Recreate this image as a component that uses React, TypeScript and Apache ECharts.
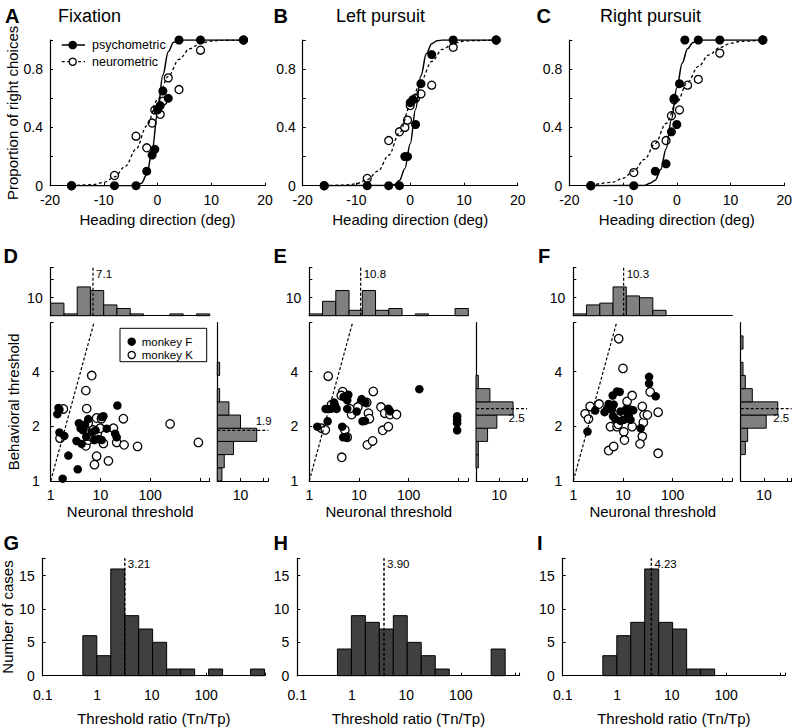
import { useEffect, useRef } from 'react';
import * as echarts from 'echarts';

const FONT = '"Liberation Sans", Arial, Helvetica, sans-serif';

// ---------- Row 1: psychometric / neurometric ----------
const headingTicks = ['-20', '-10', '0', '10', '20'];
const proportionTicks = ['0', '0.4', '0.8'];
const panelTitlesTop = ['Fixation', 'Left pursuit', 'Right pursuit'];

const psyA = [[-16, 0], [-8, 0], [-4, 0], [-2, 0.1], [-1, 0.21], [-0.5, 0.25], [0, 0.52], [0.5, 0.55], [1, 0.65], [2, 0.6], [4, 1], [8, 1], [16, 1]];
const neuA = [[-16, 0], [-8, 0.07], [-4, 0.34], [-2, 0.26], [-1, 0.43], [-0.5, 0.52], [0.5, 0.49], [1, 0.58], [2, 0.74], [4, 0.66], [8, 0.93], [16, 1]];
const psyB = [[-16, 0], [-8, 0], [-4, 0], [-2, 0], [-1, 0.2], [-0.5, 0.2], [0, 0.57], [0.5, 0.59], [1, 0.42], [2, 0.7], [4, 0.9], [8, 1], [16, 1]];
const neuB = [[-16, 0], [-8, 0.05], [-4, 0.31], [-2, 0.37], [-1, 0.4], [-0.5, 0.45], [0, 0.55], [1, 0.6], [2, 0.63], [4, 0.69], [8, 0.95], [16, 1]];
const psyC = [[-16, 0], [-8, 0], [-4, 0.1], [-2, 0.15], [-1, 0.37], [-0.5, 0.6], [0, 0.42], [0.5, 0.7], [1.5, 1], [4, 1], [8, 1], [16, 1]];
const neuC = [[-16, 0], [-8, 0.09], [-4, 0.28], [-2, 0.31], [-1, 0.48], [-0.5, 0.59], [0.5, 0.52], [2, 0.69], [4, 0.73], [8, 0.91], [16, 1]];

const fitPsyA = [[-16, 0], [-5, 0], [-4, 0.002], [-3, 0.016], [-2, 0.077], [-1, 0.24], [0, 0.5], [1, 0.76], [2, 0.92], [3, 0.984], [4, 0.998], [5, 1], [16, 1]];
const fitNeuA = [[-16, 0], [-12, 0.007], [-10, 0.023], [-8, 0.06], [-6, 0.133], [-4, 0.25], [-2, 0.41], [0, 0.59], [2, 0.75], [4, 0.867], [6, 0.94], [8, 0.977], [10, 0.993], [12, 0.998], [16, 1]];
const fitPsyB = [[-16, 0], [-4, 0.001], [-3, 0.007], [-2, 0.035], [-1, 0.117], [0, 0.287], [1, 0.525], [2, 0.754], [3, 0.905], [4, 0.974], [5, 0.995], [6, 1], [16, 1]];
const fitNeuB = [[-16, 0], [-12, 0.004], [-10, 0.014], [-8, 0.041], [-6, 0.1], [-4, 0.209], [-2, 0.363], [0, 0.546], [2, 0.72], [4, 0.853], [6, 0.935], [8, 0.976], [10, 0.993], [12, 0.996], [16, 1]];
const fitPsyC = [[-16, 0], [-6, 0.002], [-5, 0.017], [-4, 0.038], [-3, 0.111], [-2, 0.252], [-1, 0.456], [0, 0.67], [1, 0.841], [2, 0.94], [3, 0.983], [4, 0.996], [5, 1], [16, 1]];
const fitNeuC = [[-16, 0.003], [-12, 0.023], [-10, 0.051], [-8, 0.102], [-6, 0.181], [-4, 0.291], [-2, 0.428], [0, 0.572], [2, 0.709], [4, 0.819], [6, 0.898], [8, 0.949], [10, 0.977], [12, 0.991], [16, 0.999]];

// ---------- Row 2: neuronal vs behavioral thresholds ----------
const neuronTicks = ['1', '10', '100'];
const behaviorTicks = ['1', '2', '4'];
const marginalCountTicks = ['10'];

const monkeyF_D = [[1.43, 2.52], [1.5, 2.47], [1.36, 2.33], [1.5, 1.85], [1.88, 1.77], [2.27, 1.38], [1.74, 1.03], [3.5, 1.16], [3.3, 1.66], [3.7, 2.08], [4.2, 1.6], [4.5, 1.9], [4.9, 2.04], [5.7, 2.19], [6.7, 1.85], [7.5, 1.68], [9.1, 1.7], [10.6, 2.25], [10.6, 1.68], [13.4, 1.94], [19.8, 1.82], [21.3, 1.74], [22, 2.6], [4.0, 1.95], [5.2, 1.75], [8.0, 1.9], [11.5, 2.27]];
const monkeyK_D = [[1.8, 2.49], [1.54, 1.72], [5.1, 3.14], [6.7, 3.8], [5.3, 2.5], [5.7, 2.08], [5.7, 1.83], [5.1, 1.56], [8.4, 2.22], [7.2, 1.91], [8.7, 1.83], [9.9, 1.95], [8.4, 1.37], [7.6, 1.23], [14.5, 1.29], [11.5, 1.61], [18.3, 1.95], [21.3, 1.63], [29, 2.2], [30, 1.58], [56, 1.55], [253, 2.06], [938, 1.63], [5.7, 1.68], [6.5, 1.75], [10.5, 2.2]];
const monkeyF_E = [[1.45, 1.99], [2.13, 2.49], [2.34, 2.13], [2.53, 2.49], [3.14, 2.7], [3.55, 2.49], [4.6, 1.99], [4.8, 1.74], [5.5, 1.74], [5.5, 2.92], [5.8, 2.78], [6.1, 2.98], [5.8, 2.49], [9.0, 2.41], [11.3, 2.82], [11.8, 2.13], [13.2, 2.14], [39, 2.5], [164, 3.2], [945, 2.27], [945, 2.17], [945, 2.08], [945, 1.9], [2.8, 2.5], [3.3, 2.6], [4.9, 2.9], [13.5, 2.7], [42, 2.42]];
const monkeyK_E = [[1.77, 1.95], [2.4, 3.77], [4.7, 3.1], [5.2, 1.91], [5.8, 1.74], [4.5, 1.35], [7.1, 2.32], [11.3, 2.74], [14.3, 2.7], [15.5, 2.36], [16.2, 2.2], [14.7, 1.58], [18.8, 1.66], [19.4, 3.11], [27.7, 2.55], [33, 2.36], [30, 1.9], [39, 1.99], [42, 2.32], [57, 2.32], [2.8, 2.63], [2.1, 1.91], [4.4, 2.95], [9.5, 2.55], [6.5, 2.5]];
const monkeyF_F = [[1.93, 1.87], [2.76, 2.44], [4.26, 2.39], [5.15, 2.65], [6.2, 2.95], [6.5, 2.63], [7.6, 3.11], [8.6, 3.09], [6.0, 2.47], [6.3, 2.27], [7.0, 2.19], [8.9, 2.41], [8.9, 2.14], [10.4, 2.17], [11.8, 2.5], [13.1, 2.27], [14.2, 2.47], [14.2, 2.17], [16.1, 2.45], [22.7, 1.95], [33.5, 3.74], [33.5, 3.43], [45.6, 2.92], [12.5, 2.35], [4.8, 2.5]];
const monkeyK_F = [[1.73, 2.34], [2.02, 2.19], [2.18, 2.57], [3.3, 2.65], [10, 4.16], [8.2, 6.06], [5.6, 1.99], [7.6, 1.99], [10.4, 1.86], [10.7, 1.68], [5.15, 1.47], [6.5, 1.55], [12.1, 2.74], [15.3, 2.95], [15.3, 1.99], [24.5, 1.76], [24.5, 2.57], [25.7, 2.1], [26.5, 2.31], [35.2, 3.09], [31, 2.31], [51, 2.39], [51, 1.42], [8, 2.05], [11, 2.3], [22, 1.6]];

const neuronBinEdges = [1, 1.848, 3.415, 6.31, 11.66, 21.54, 39.81, 73.56, 135.9, 251.2, 464.2, 857.7, 1585];
const neuronCountsD = [7, 1, 16, 14, 6, 4, 1, 0, 0, 1, 0, 1];
const neuronCountsE = [1, 8, 14, 3, 14, 3, 4, 0, 1, 0, 0, 4];
const neuronCountsF = [1, 6, 7, 16, 11, 10, 3, 0, 0, 0, 0, 0];
const behaviorBinEdges = [1, 1.182, 1.397, 1.651, 1.951, 2.305, 2.724, 3.22, 3.805, 4.497, 5.314, 6.28, 7.42];
const behaviorCountsD = [2, 3, 7, 17, 10, 5, 1, 0, 1, 0, 0, 0];
const behaviorCountsE = [0, 1, 1, 5, 9, 16, 6, 1, 0, 0, 0, 0];
const behaviorCountsF = [0, 0, 2, 3, 11, 16, 5, 2, 1, 0, 1, 0];
const neuronMedians = [7.1, 10.8, 10.3];
const behaviorMedians = [1.9, 2.5, 2.5];

// ---------- Row 3: threshold ratio ----------
const ratioTicks = ['0.1', '1', '10', '100'];
const casesTicks = ['0', '5', '10', '15'];
const ratioBinEdges = [0.545, 0.983, 1.774, 3.2, 5.78, 10.4, 18.8, 34.0, 61.4, 110.9, 200, 361, 652, 1178];
const ratioCountsG = [6, 3, 16, 9, 7, 5, 1, 1, 0, 1, 0, 0, 1];
const ratioCountsH = [4, 9, 8, 7, 9, 5, 3, 1, 0, 0, 0, 4, 0];
const ratioCountsI = [3, 6, 8, 16, 8, 7, 1, 1, 0, 0, 0, 0, 0];
const ratioMedians = [3.21, 3.9, 4.23];
const ratioMedianLabels = ['3.21', '3.90', '4.23'];

// ---------- helpers ----------
const fmt = (v: number) => String(Number(Number(v).toPrecision(6)));
const pick = (labels: string[]) => (v: number) => {
  const s = fmt(v);
  return labels.includes(s) ? s : '';
};
const bins = (edges: number[], counts: number[]) => counts.map((c, i) => [edges[i], edges[i + 1], c]);

const grid = (left: number, top: number, width: number, height: number) => ({
  left, top, width, height, containLabel: false, outerBoundsMode: 'none',
});

const axis = (gridIndex: number, o: any) => ({
  gridIndex,
  axisLine: { show: true, onZero: false, lineStyle: { color: '#000', width: 1.2 } },
  axisTick: { show: o.tick !== false, inside: true, length: 3, lineStyle: { color: '#000', width: 1 } },
  splitLine: { show: false },
  axisLabel: {
    show: o.labels !== undefined,
    color: '#000', fontSize: 14, fontFamily: FONT, margin: o.margin ?? 7,
    formatter: o.labels ? pick(o.labels) : undefined,
  },
  name: o.name,
  nameLocation: 'middle',
  nameGap: o.nameGap,
  nameTextStyle: { color: '#000', fontSize: 15, fontFamily: FONT },
  type: o.type,
  logBase: o.logBase,
  min: o.min,
  max: o.max,
  interval: o.interval,
});

const histSeries = (idx: number, data: number[][], color: string, horizontal: boolean) => ({
  type: 'custom',
  xAxisIndex: idx,
  yAxisIndex: idx,
  silent: true,
  data,
  encode: horizontal ? { x: 2, y: [0, 1] } : { x: [0, 1], y: 2 },
  renderItem: (_p: any, api: any) => {
    const lo = api.value(0);
    const hi = api.value(1);
    const c = api.value(2);
    if (!(c > 0)) return { type: 'group', children: [] };
    const p0 = horizontal ? api.coord([0, lo]) : api.coord([lo, 0]);
    const p1 = horizontal ? api.coord([c, hi]) : api.coord([hi, c]);
    return {
      type: 'rect',
      shape: {
        x: Math.min(p0[0], p1[0]), y: Math.min(p0[1], p1[1]),
        width: Math.abs(p1[0] - p0[0]), height: Math.abs(p1[1] - p0[1]),
      },
      style: { fill: color, stroke: '#000', lineWidth: 1 },
    };
  },
});

const dashLine = (idx: number, data: number[][], width = 1.2) => ({
  type: 'line', xAxisIndex: idx, yAxisIndex: idx, data, symbol: 'none', silent: true,
  lineStyle: { color: '#000', width, type: [3, 2], opacity: 1 },
});

const textMark = (idx: number, point: number[], text: string, position: string) => ({
  type: 'scatter', xAxisIndex: idx, yAxisIndex: idx, silent: true,
  symbolSize: 0.1, itemStyle: { color: 'rgba(0,0,0,0)', opacity: 1 },
  data: [point],
  label: { show: true, formatter: text, position, distance: 3, color: '#000', opacity: 1, fontSize: 11.5, fontFamily: FONT },
});

const dots = (idx: number, data: number[][], size: number, hollow: boolean) => ({
  type: 'scatter', xAxisIndex: idx, yAxisIndex: idx, data, symbol: 'circle', symbolSize: size, silent: true,
  itemStyle: hollow
    ? { color: '#fff', borderColor: '#000', borderWidth: 1.3, opacity: 1 }
    : { color: '#000', opacity: 1 },
});

function buildOption() {
  const grids: any[] = [];
  const xAxes: any[] = [];
  const yAxes: any[] = [];
  const series: any[] = [];

  // Row 1 (indices 0..2)
  const topLefts = [50, 302.7, 569.3];
  const psy = [psyA, psyB, psyC];
  const neu = [neuA, neuB, neuC];
  const fitPsy = [fitPsyA, fitPsyB, fitPsyC];
  const fitNeu = [fitNeuA, fitNeuB, fitNeuC];
  topLefts.forEach((l, i) => {
    grids.push(grid(l, 40, 215, 145.7));
    xAxes.push(axis(i, { type: 'value', min: -20, max: 20, interval: 10, labels: headingTicks, margin: 7, name: 'Heading direction (deg)', nameGap: 26 }));
    yAxes.push(axis(i, { type: 'value', min: 0, max: 1, interval: 0.2, labels: proportionTicks, margin: 7, name: i === 0 ? 'Proportion of right choices' : undefined, nameGap: 30 }));
    series.push({
      type: 'line', xAxisIndex: i, yAxisIndex: i, data: fitNeu[i], symbol: 'none', silent: true,
      smooth: 0.35, smoothMonotone: 'x', lineStyle: { color: '#000', width: 1.3, type: [3, 2.5] },
    });
    series.push({
      type: 'line', xAxisIndex: i, yAxisIndex: i, data: fitPsy[i], symbol: 'none', silent: true,
      smooth: 0.35, smoothMonotone: 'x', lineStyle: { color: '#000', width: 1.5 },
    });
    series.push(dots(i, neu[i], 8, true));
    series.push(dots(i, psy[i], 9, false));
  });

  // Row 2 scatter (3..5), top hist (6..8), right hist (9..11)
  const midLefts = [50.7, 309.3, 573.3];
  const rightLefts = [217.3, 476, 740.7];
  const filled = [monkeyF_D, monkeyF_E, monkeyF_F];
  const open = [monkeyK_D, monkeyK_E, monkeyK_F];
  const nCounts = [neuronCountsD, neuronCountsE, neuronCountsF];
  const bCounts = [behaviorCountsD, behaviorCountsE, behaviorCountsF];
  const yMax = behaviorBinEdges[behaviorBinEdges.length - 1];
  const xMax = neuronBinEdges[neuronBinEdges.length - 1];
  midLefts.forEach((l, i) => {
    const s = 3 + i;
    grids.push(grid(l, 322.7, 159, 158.3));
    xAxes.push(axis(s, { type: 'log', logBase: 10, min: 1, max: xMax, labels: neuronTicks, margin: 7, name: 'Neuronal threshold', nameGap: 23 }));
    yAxes.push(axis(s, { type: 'log', logBase: 2, min: 1, max: yMax, labels: behaviorTicks, margin: 11, name: i === 0 ? 'Behavioral threshold' : undefined, nameGap: 30 }));
    series.push(dashLine(s, [[1, 1], [yMax, yMax]], 1.2));
    series.push(dots(s, open[i], 8.5, true));
    series.push(dots(s, filled[i], 8.5, false));
  });
  midLefts.forEach((l, i) => {
    const h = 6 + i;
    grids.push(grid(l, 267.7, 159, 48));
    xAxes.push(axis(h, { type: 'log', logBase: 10, min: 1, max: xMax, tick: false }));
    yAxes.push(axis(h, { type: 'value', min: 0, max: 26.7, interval: 10, labels: marginalCountTicks, margin: 8 }));
    series.push(histSeries(h, bins(neuronBinEdges, nCounts[i]), '#808080', false));
    series.push(dashLine(h, [[neuronMedians[i], 0], [neuronMedians[i], 26.7]]));
    series.push(textMark(h, [neuronMedians[i], 23], String(neuronMedians[i]), 'right'));
  });
  rightLefts.forEach((l, i) => {
    const r = 9 + i;
    grids.push(grid(l, 322.7, 51, 158.3));
    xAxes.push(axis(r, { type: 'value', min: 0, max: 22, interval: 10, labels: marginalCountTicks, margin: 7 }));
    yAxes.push(axis(r, { type: 'log', logBase: 2, min: 1, max: yMax, tick: false }));
    series.push(histSeries(r, bins(behaviorBinEdges, bCounts[i]), '#808080', true));
    series.push(dashLine(r, [[0, behaviorMedians[i]], [22, behaviorMedians[i]]]));
    series.push(textMark(r, i === 0 ? [20, behaviorMedians[i]] : [17.5, behaviorMedians[i]], String(behaviorMedians[i]), i === 0 ? 'top' : 'bottom'));
  });

  // Row 3 (12..14)
  const botLefts = [42.7, 297.3, 562.7];
  const rCounts = [ratioCountsG, ratioCountsH, ratioCountsI];
  botLefts.forEach((l, i) => {
    const b = 12 + i;
    grids.push(grid(l, 558.3, 222.3, 117.4));
    xAxes.push(axis(b, { type: 'log', logBase: 10, min: 0.1, max: 1200, labels: ratioTicks, margin: 12, name: 'Threshold ratio (Tn/Tp)', nameGap: 35 }));
    yAxes.push(axis(b, { type: 'value', min: 0, max: 17.6, interval: 5, labels: casesTicks, margin: 8, name: i === 0 ? 'Number of cases' : undefined, nameGap: 23 }));
    series.push(histSeries(b, bins(ratioBinEdges, rCounts[i]), '#404040', false));
    series.push(dashLine(b, [[ratioMedians[i], 0], [ratioMedians[i], 17.6]], 1.5));
    series.push(textMark(b, [ratioMedians[i], 16.8], ratioMedianLabels[i], 'right'));
  });

  const txt = (text: string, x: number, y: number, font: string) => ({
    type: 'text', x, y, z: 20, silent: true,
    style: { text, fill: '#000', font, align: 'left', verticalAlign: 'middle', textAlign: 'left', textVerticalAlign: 'middle' },
  });
  const letterFont = `bold 20px ${FONT}`;
  const titleFont = `18px ${FONT}`;
  const graphic: any[] = [
    txt('A', 5, 16, letterFont), txt(panelTitlesTop[0], 58, 16, titleFont),
    txt('B', 273.5, 16, letterFont), txt(panelTitlesTop[1], 336, 16, titleFont),
    txt('C', 536.5, 16, letterFont), txt(panelTitlesTop[2], 600, 16, titleFont),
    txt('D', 3.5, 255.5, letterFont), txt('E', 273.5, 256, letterFont), txt('F', 538, 256, letterFont),
    txt('G', 3.5, 543, letterFont), txt('H', 273.5, 543, letterFont), txt('I', 537, 543, letterFont),
    // legend, panel A
    { type: 'line', z: 20, silent: true, shape: { x1: 61.7, y1: 45, x2: 85, y2: 45 }, style: { stroke: '#000', lineWidth: 1.5 } },
    { type: 'circle', z: 21, silent: true, shape: { cx: 72.7, cy: 45, r: 4.3 }, style: { fill: '#000' } },
    { type: 'line', z: 20, silent: true, shape: { x1: 61.7, y1: 61.7, x2: 85, y2: 61.7 }, style: { stroke: '#000', lineWidth: 1.3, lineDash: [3, 2.5] } },
    { type: 'circle', z: 21, silent: true, shape: { cx: 72.7, cy: 61.7, r: 3.6 }, style: { fill: '#fff', stroke: '#000', lineWidth: 1.3 } },
    txt('psychometric', 92, 45, `12.5px ${FONT}`),
    txt('neurometric', 92, 61.7, `12.5px ${FONT}`),
    // legend, panel D
    { type: 'rect', z: 20, silent: true, shape: { x: 120, y: 328.3, width: 86.7, height: 33.4 }, style: { fill: '#fff', stroke: '#000', lineWidth: 1 } },
    { type: 'circle', z: 21, silent: true, shape: { cx: 131.7, cy: 341.7, r: 4.2 }, style: { fill: '#000' } },
    { type: 'circle', z: 21, silent: true, shape: { cx: 131.7, cy: 355, r: 3.6 }, style: { fill: '#fff', stroke: '#000', lineWidth: 1.3 } },
    txt('monkey F', 141.7, 341.7, `11.5px ${FONT}`),
    txt('monkey K', 141.7, 355, `11.5px ${FONT}`),
  ];

  return {
    animation: false,
    textStyle: { fontFamily: FONT },
    grid: grids,
    xAxis: xAxes,
    yAxis: yAxes,
    series,
    graphic,
  };
}

export default function App() {
  const ref = useRef<HTMLDivElement>(null);
  useEffect(() => {
    document.body.style.margin = '0';
    const chart = echarts.init(ref.current!, null, { renderer: 'svg' });
    chart.setOption(buildOption() as any);
    return () => chart.dispose();
  }, []);
  return <div ref={ref} style={{ width: 792, height: 728, background: '#fff' }} />;
}
